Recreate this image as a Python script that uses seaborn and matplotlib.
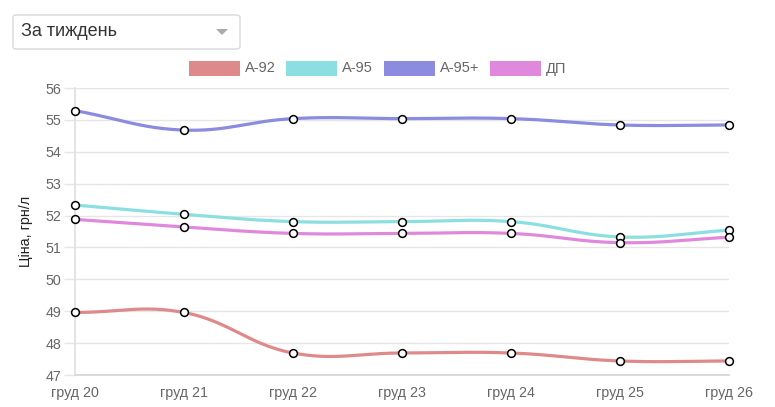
import numpy as np
import pandas as pd
import matplotlib
matplotlib.use("Agg")
import matplotlib.pyplot as plt
import seaborn as sns
from matplotlib.patches import FancyBboxPatch, Rectangle, Polygon

# ---- data ----
dates = ["груд 20", "груд 21", "груд 22", "груд 23", "груд 24", "груд 25", "груд 26"]
a92 = [48.96, 48.96, 47.69, 47.69, 47.69, 47.44, 47.44]
a95 = [52.33, 52.04, 51.81, 51.81, 51.81, 51.33, 51.54]
a95p = [55.29, 54.68, 55.04, 55.04, 55.04, 54.84, 54.84]
dp = [51.88, 51.64, 51.44, 51.44, 51.44, 51.15, 51.32]
series_names = ["А-92", "А-95", "А-95+", "ДП"]
series_vals = [a92, a95, a95p, dp]
colors = ["#df8a8a", "#8cdfe0", "#8b8bdf", "#e089dc"]
y_ticks = [47, 48, 49, 50, 51, 52, 53, 54, 55, 56]
y_label = "Ціна, грн/л"
dropdown_text = "За тиждень"

sns.set_theme(style="white")
plt.rcParams['font.family'] = ['Liberation Sans', 'DejaVu Sans']

W, H = 775, 407
fig = plt.figure(figsize=(W / 100, H / 100), dpi=100)
ax_l, ax_r, ax_t, ax_b = 75, 729, 88, 375
ax = fig.add_axes([ax_l / W, 1 - ax_b / H, (ax_r - ax_l) / W, (ax_b - ax_t) / H])

n = len(dates)
xs = np.arange(n)
xpx = (ax_r - ax_l) / (n - 1)
ypx = (ax_b - ax_t) / (y_ticks[-1] - y_ticks[0])


def chartjs_spline(x, y, tension=0.4, steps=30):
    # Chart.js style bezier spline computed in pixel space
    px = np.asarray(x, float) * xpx
    py = np.asarray(y, float) * ypx
    m = len(px)
    cp_prev = []
    cp_next = []
    for i in range(m):
        p0 = (px[max(i - 1, 0)], py[max(i - 1, 0)])
        p1 = (px[i], py[i])
        p2 = (px[min(i + 1, m - 1)], py[min(i + 1, m - 1)])
        d01 = np.hypot(p1[0] - p0[0], p1[1] - p0[1])
        d12 = np.hypot(p2[0] - p1[0], p2[1] - p1[1])
        tot = d01 + d12
        s01 = d01 / tot if tot else 0
        s12 = d12 / tot if tot else 0
        fa, fb = tension * s01, tension * s12
        cp_prev.append((p1[0] - fa * (p2[0] - p0[0]), p1[1] - fa * (p2[1] - p0[1])))
        cp_next.append((p1[0] + fb * (p2[0] - p0[0]), p1[1] + fb * (p2[1] - p0[1])))
    ox, oy = [], []
    t = np.linspace(0, 1, steps)
    for i in range(m - 1):
        P0 = np.array([px[i], py[i]])
        P1 = np.array(cp_next[i])
        P2 = np.array(cp_prev[i + 1])
        P3 = np.array([px[i + 1], py[i + 1]])
        seg = ((1 - t) ** 3)[:, None] * P0 + (3 * (1 - t) ** 2 * t)[:, None] * P1 \
            + (3 * (1 - t) * t ** 2)[:, None] * P2 + (t ** 3)[:, None] * P3
        if i > 0:
            seg = seg[1:]
        ox.extend(seg[:, 0])
        oy.extend(seg[:, 1])
    return np.array(ox) / xpx, np.array(oy) / ypx


for name, vals, c in zip(series_names, series_vals, colors):
    sx, sy = chartjs_spline(xs, vals)
    sns.lineplot(x=sx, y=sy, ax=ax, color=c, linewidth=2.3, sort=False, zorder=3)

for name, vals, c in zip(series_names, series_vals, colors):
    ax.plot(xs, vals, linestyle="none", marker="o", markersize=5.6,
            markerfacecolor="white", markeredgecolor="black", markeredgewidth=1.1,
            zorder=5, clip_on=False)

ax.set_xlim(0, n - 1)
ax.set_ylim(y_ticks[0], y_ticks[-1])
ax.set_yticks(y_ticks)
ax.set_yticklabels([str(v) for v in y_ticks])
ax.set_xticks(xs)
ax.set_xticklabels(dates)
ax.grid(axis="y", color="#e6e6e6", linewidth=1)
ax.grid(axis="x", visible=False)
for s in ["top", "right"]:
    ax.spines[s].set_visible(False)
ax.spines["left"].set_color("#e0e0e0")
ax.spines["bottom"].set_color("#d6d6d6")
ax.tick_params(axis="y", length=8, color="#e6e6e6", width=1, labelsize=10.3,
               labelcolor="#666666", pad=2, left=True)
ax.tick_params(axis="x", length=0, labelsize=10.3, labelcolor="#666666", pad=8)
ax.set_ylabel(y_label, fontsize=10.3, color="#222222", labelpad=9)
ax.set_xlabel("")

# ---- legend (manual, Chart.js style) ----
leg_boxes = [189, 286, 384, 490]
for bx, name, c in zip(leg_boxes, series_names, colors):
    fig.patches.append(Rectangle((bx / W, 1 - 76 / H), 51 / W, 15 / H,
                                 transform=fig.transFigure, facecolor=c,
                                 edgecolor="none"))
    fig.text((bx + 56) / W, 1 - 68.5 / H, name, fontsize=10.5, color="#666666",
             va="center", ha="left")

# ---- dropdown ----
fig.patches.append(FancyBboxPatch((13 / W, 1 - 49 / H), 227 / W, 34 / H,
                                  boxstyle="round,pad=0,rounding_size=0.005",
                                  transform=fig.transFigure, facecolor="white",
                                  edgecolor="#d9d9d9", linewidth=1))
fig.text(21 / W, 1 - 32 / H, dropdown_text, fontsize=13, color="#333333",
         va="center", ha="left")
fig.patches.append(Polygon([[216 / W, 1 - 29 / H], [228 / W, 1 - 29 / H],
                            [222 / W, 1 - 35 / H]], closed=True,
                           transform=fig.transFigure, facecolor="#aaaaaa",
                           edgecolor="none"))

fig.savefig("out.png", dpi=100)
